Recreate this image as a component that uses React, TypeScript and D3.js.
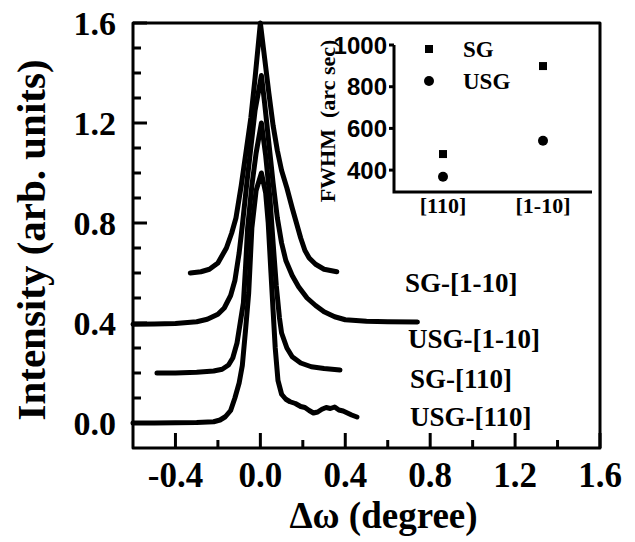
import { useEffect, useRef } from "react";
import * as d3 from "d3";

const W = 635;
const H = 542;
const SERIF = "'Liberation Serif', 'Times New Roman', serif";
const SANS = "'Liberation Sans', Arial, sans-serif";

// main plot ticks
const xTicks = [-0.4, 0.0, 0.4, 0.8, 1.2, 1.6];
const xMinorTicks = [-0.2, 0.2, 0.6, 1.0, 1.4];
const yTicks = [0.0, 0.4, 0.8, 1.2, 1.6];
const yMinorTicks = [0.1, 0.2, 0.3, 0.5, 0.6, 0.7, 0.9, 1.0, 1.1, 1.3, 1.4, 1.5];

// rocking curves (plotted with vertical offsets as in the figure)
const sg1m10X = [-0.33, -0.28, -0.24, -0.2, -0.16, -0.135, -0.115, -0.09, -0.065, -0.045, -0.025, 0.0, 0.02, 0.04, 0.06, 0.08, 0.1, 0.125, 0.15, 0.17, 0.19, 0.21, 0.23, 0.26, 0.3, 0.36];
const sg1m10Y = [0.6, 0.605, 0.615, 0.64, 0.7, 0.76, 0.82, 0.95, 1.1, 1.22, 1.38, 1.6, 1.46, 1.32, 1.19, 1.09, 1.01, 0.94, 0.86, 0.8, 0.74, 0.69, 0.66, 0.635, 0.615, 0.605];

const usg1m10X = [-0.6, -0.5, -0.4, -0.3, -0.25, -0.2, -0.17, -0.14, -0.12, -0.1, -0.085, -0.065, -0.045, -0.025, 0.005, 0.02, 0.04, 0.06, 0.08, 0.1, 0.12, 0.15, 0.18, 0.22, 0.26, 0.3, 0.35, 0.4, 0.5, 0.6, 0.74];
const usg1m10Y = [0.395, 0.396, 0.398, 0.405, 0.415, 0.435, 0.46, 0.51, 0.57, 0.68, 0.79, 0.95, 1.1, 1.25, 1.39, 1.28, 1.12, 0.96, 0.82, 0.72, 0.65, 0.59, 0.545, 0.5, 0.47, 0.445, 0.425, 0.413, 0.407, 0.405, 0.404];

const sg110X = [-0.487, -0.4, -0.3, -0.22, -0.18, -0.15, -0.13, -0.11, -0.095, -0.08, -0.07, -0.06, -0.04, -0.02, 0.005, 0.025, 0.045, 0.06, 0.075, 0.09, 0.1, 0.125, 0.15, 0.19, 0.24, 0.3, 0.375];
const sg110Y = [0.2, 0.2, 0.203, 0.208, 0.215, 0.232, 0.26, 0.32, 0.4, 0.48, 0.62, 0.78, 0.95, 1.08, 1.2, 1.07, 0.9, 0.72, 0.55, 0.42, 0.36, 0.3, 0.265, 0.24, 0.225, 0.218, 0.212];

const usg110X = [-0.6, -0.5, -0.4, -0.3, -0.22, -0.19, -0.165, -0.14, -0.12, -0.1, -0.085, -0.07, -0.055, -0.04, -0.02, 0.005, 0.025, 0.037, 0.05, 0.06, 0.07, 0.083, 0.1, 0.12, 0.14, 0.165, 0.19, 0.21, 0.23, 0.25, 0.27, 0.29, 0.31, 0.33, 0.35, 0.37, 0.39, 0.41, 0.43, 0.455];
const usg110Y = [0.0, 0.0, 0.001, 0.002, 0.005, 0.012, 0.025, 0.05, 0.1, 0.16, 0.23, 0.37, 0.52, 0.78, 0.93, 1.0, 0.92, 0.8, 0.6, 0.45, 0.3, 0.17, 0.115, 0.095, 0.085, 0.078, 0.066, 0.062, 0.05, 0.04, 0.044, 0.055, 0.062, 0.058, 0.064, 0.052, 0.048, 0.04, 0.032, 0.024];

const seriesNames = ["SG-[1-10]", "USG-[1-10]", "SG-[110]", "USG-[110]"];
// label anchor in data units (left x, baseline y)
const labelX = [0.681, 0.695, 0.705, 0.705];
const labelY = [0.524, 0.3, 0.14, -0.012];

// inset: FWHM (arc sec)
const insetCats = ["[110]", "[1-10]"];
const sgFwhm = [477, 899];
const usgFwhm = [368, 541];
const insetTicks = [400, 600, 800, 1000];

export default function App() {
  const svgRef = useRef<SVGSVGElement | null>(null);

  useEffect(() => {
    document.body.style.margin = "0";
    const svg = d3.select(svgRef.current);
    svg.selectAll("*").remove();

    const x = d3.scaleLinear().domain([-0.6, 1.6]).range([133, 600]);
    const y = d3.scaleLinear().domain([-0.1, 1.6]).range([448, 23]);
    const fmt = (d: number) => d.toFixed(1);

    svg.append("rect").attr("width", W).attr("height", H).attr("fill", "#fff");

    const curveLine = d3
      .line<[number, number]>()
      .x((d) => x(d[0]))
      .y((d) => y(d[1]));

    // frame as a closed polyline in data units
    const [xa, xb] = x.domain();
    const [ya, yb] = y.domain();
    svg
      .append("path")
      .attr("d", curveLine([[xa, ya], [xb, ya], [xb, yb], [xa, yb], [xa, ya]]))
      .attr("fill", "none")
      .attr("stroke", "#000")
      .attr("stroke-width", 3)
      .attr("stroke-linejoin", "round")
      .attr("stroke-linecap", "round");

    // ticks (inward)
    const px = d3.line<[number, number]>();
    const tickPath = (pts: [number, number][]) =>
      svg
        .append("path")
        .attr("d", px(pts))
        .attr("fill", "none")
        .attr("stroke", "#000")
        .attr("stroke-width", 3)
        .attr("stroke-linecap", "butt");

    const x0 = x(xa);
    const y0 = y(ya);
    yTicks.forEach((t) => tickPath([[x0, y(t)], [x0 + 14, y(t)]]));
    yMinorTicks.forEach((t) => tickPath([[x0, y(t)], [x0 + 8, y(t)]]));
    xTicks.forEach((t) => tickPath([[x(t), y0], [x(t), y0 - 15]]));
    xMinorTicks.forEach((t) => tickPath([[x(t), y0], [x(t), y0 - 8]]));

    const curves = [
      d3.zip(sg1m10X, sg1m10Y),
      d3.zip(usg1m10X, usg1m10Y),
      d3.zip(sg110X, sg110Y),
      d3.zip(usg110X, usg110Y)
    ] as [number, number][][];

    curves.forEach((c) => {
      svg
        .append("path")
        .attr("d", curveLine(c))
        .attr("fill", "none")
        .attr("stroke", "#000")
        .attr("stroke-width", 5)
        .attr("stroke-linejoin", "round")
        .attr("stroke-linecap", "round");
    });

    const text = (s: string, tx: number, ty: number, size: number, anchor = "start", family = SERIF) =>
      svg
        .append("text")
        .attr("x", tx)
        .attr("y", ty)
        .attr("text-anchor", anchor)
        .attr("font-family", family)
        .attr("font-weight", "bold")
        .attr("font-size", size)
        .attr("fill", "#000")
        .text(s);

    yTicks.forEach((t) => text(fmt(t), 116, y(t), 34, "end").attr("dy", "0.34em"));
    xTicks.forEach((t) => text(fmt(t), x(t), 487, 35, "middle"));

    text("Δω (degree)", (x(xa) + x(xb)) / 2 + 17, 528, 37, "middle");
    text("Intensity (arb. units)", 0, 0, 41, "middle").attr("transform", "translate(45, 240) rotate(-90)");

    seriesNames.forEach((n, i) => text(n, x(labelX[i]), y(labelY[i]), 27));

    // inset
    const ix = d3.scalePoint().domain(insetCats).range([394, 592]).padding(0.49);
    const iy = d3.scaleLinear().domain([295, 1000]).range([192, 45]);

    tickPath([[394, iy(1000)], [394, iy(295)], [592, iy(295)]]).attr("stroke-linejoin", "miter");
    insetTicks.forEach((t) => {
      tickPath([[389, iy(t)], [394, iy(t)]]);
      text(String(t), 387, iy(t), 24, "end", SANS).attr("dy", "0.36em");
    });
    insetCats.forEach((c) => text(c, ix(c) as number, 213, 22, "middle"));
    text("FWHM\u00a0 (arc sec)", 0, 0, 22, "middle").attr("transform", "translate(335, 121) rotate(-90)");

    insetCats.forEach((c, i) => {
      svg
        .append("rect")
        .attr("x", (ix(c) as number) - 4)
        .attr("y", iy(sgFwhm[i]) - 4)
        .attr("width", 8)
        .attr("height", 8)
        .attr("fill", "#000");
      svg
        .append("circle")
        .attr("cx", ix(c) as number)
        .attr("cy", iy(usgFwhm[i]))
        .attr("r", 5)
        .attr("fill", "#000");
    });

    // legend
    svg.append("rect").attr("x", 425).attr("y", 45).attr("width", 8).attr("height", 8).attr("fill", "#000");
    svg.append("circle").attr("cx", 429).attr("cy", 81).attr("r", 5).attr("fill", "#000");
    text("SG", 463, 57, 23);
    text("USG", 463, 89, 23);
  }, []);

  return <svg ref={svgRef} width={W} height={H} style={{ display: "block" }} />;
}
